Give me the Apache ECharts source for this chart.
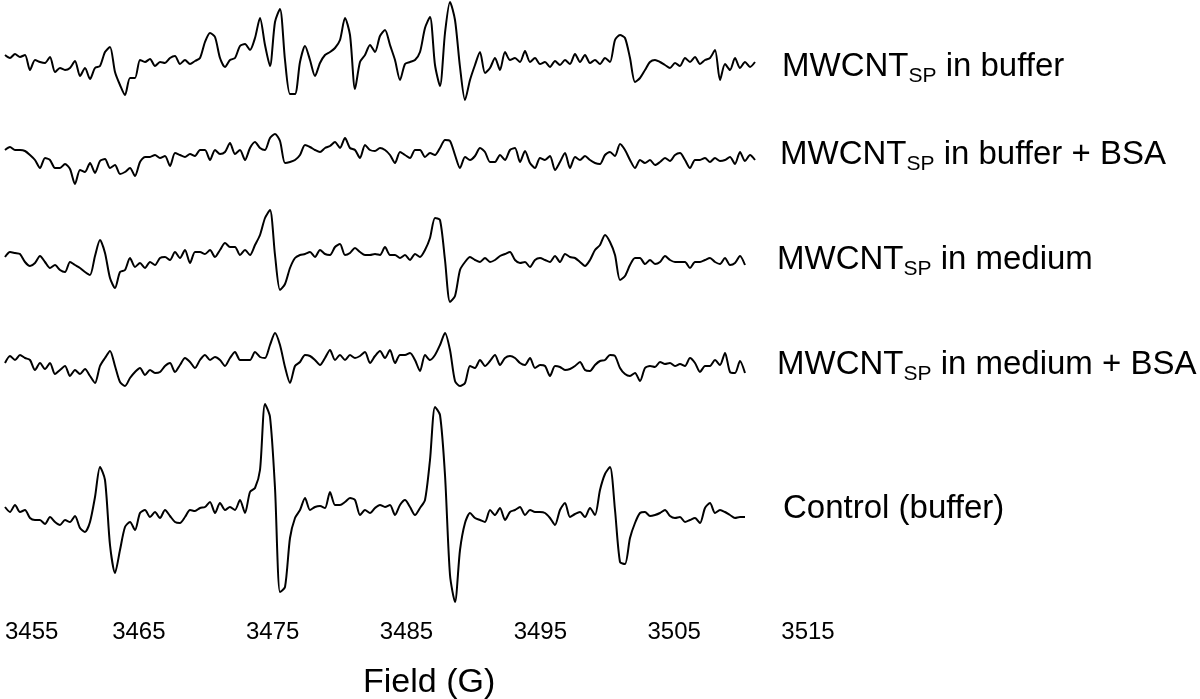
<!DOCTYPE html>
<html>
<head>
<meta charset="utf-8">
<script src="https://cdn.jsdelivr.net/npm/echarts@6/dist/echarts.min.js"></script>
<style>
html, body { margin: 0; padding: 0; background: #fff; }
#chart { width: 1200px; height: 699px; }
</style>
</head>
<body>
<div id="chart"></div>
<script>
// field sweep (G) and axis ticks
var fieldStart = 3455;
var fieldStep = 0.3736;
var fieldTicks = [3455, 3465, 3475, 3485, 3495, 3505, 3515];

// spectra, arbitrary units, one value per field step
var bufferSpec = [
  7, 4, 8, 5, 7, -8, 2, 0, -1, 5,
  -10, -6, -8, -6, 1, -14, -6, -17, -6, -4,
  10, 15, -10, -23, -33, -16, -16, 2, 0, 3,
  -4, 0, -1, 4, 6, -2, 2, -2, 1, 4,
  20, 29, 25, 4, -5, 2, 4, 16, 18, 12,
  24, 44, 17, -4, 40, 53, 2, -32, -32, 0,
  16, 2, -14, -1, 7, 10, 14, 22, 44, 27,
  -27, 0, 7, 17, 10, 26, 32, 17, 2, -18,
  -2, 0, 2, 10, 34, 45, -3, -24, 29, 60,
  42, -5, -38, -18, -3, 10, -11, -6, 4, -8,
  10, 2, 4, 0, 11, 0, 4, -2, 0, -5,
  1, -3, 2, -2, 8, 0, 7, -1, 2, -2,
  4, 0, 22, 27, 24, 4, -20, -16, -8, 0,
  2, 0, -3, -6, -1, -4, 4, 0, 5, -2,
  2, 4, 12, -18, -2, -8, 4, -6, 0, -5,
  0
];
var bufferBsaSpec = [
  8, 11, 8, 8, 7, 3, -2, -10, 0, -2,
  -10, -10, -6, -11, -26, -12, -14, -5, -15, -3,
  -1, -10, -7, -16, -14, -10, -18, -4, 1, 1,
  3, 0, 2, -8, 5, 3, 1, 4, 2, 8,
  8, -2, 8, 4, 6, 15, 4, 8, -2, 10,
  16, 10, 8, 20, 24, 17, -5, -4, -2, 3,
  13, 11, 8, 6, 10, 12, 16, 10, 20, 10,
  8, 0, 13, 8, 7, 10, 8, 3, -5, 6,
  3, 0, 8, 8, 1, 5, 3, 10, 18, 17,
  3, -10, 1, -2, 2, 10, 6, -4, -4, 3,
  -2, 8, 10, -4, 7, -5, -10, 0, -2, 2,
  -12, -4, 5, -10, 1, -2, 2, -2, -5, -6,
  3, 6, 2, 14, 8, -2, -10, -2, -5, -2,
  -7, -4, 0, -3, 3, 5, -2, -10, -2, -2,
  0, -4, 0, -3, -2, 1, -6, 6, -3, 3,
  -2
];
var mediumSpec = [
  5, 10, 9, 8, 0, -4, -1, 6, 0, -6,
  -3, -8, -10, 0, -3, -6, -10, -13, 6, 22,
  9, -16, -26, -10, -8, 4, -5, -1, -6, 0,
  -3, 4, 5, 2, 10, 4, 12, -1, 10, 10,
  8, 12, 5, 12, 19, 15, 15, 7, 12, 7,
  17, 27, 44, 52, 7, -28, -22, -6, 4, 7,
  8, 10, 5, 12, 8, 7, 15, 18, 7, 9,
  14, 10, 7, 7, 8, 7, 15, 7, 7, 4,
  7, 2, 8, 5, 12, 24, 44, 42, 2, -40,
  -34, -8, 0, 5, 2, 0, 4, 0, 2, 6,
  8, 10, 2, -1, 0, -5, 2, 4, 2, 0,
  6, 0, 8, 5, 4, 0, -4, 2, 12, 17,
  27, 20, 7, -18, -14, -3, 4, 4, -2, 2,
  -2, 0, 6, 2, 0, 0, 0, -6, 0, 0,
  2, 4, 0, -2, 4, -3, -1, 6, -3
];
var mediumBsaSpec = [
  -1, 6, 2, 7, 4, 2, -8, -1, -7, -1,
  -12, -8, -4, -14, -8, -12, -7, -14, -21, -4,
  4, 11, -4, -20, -24, -16, -10, -6, -13, -8,
  -11, -10, -4, -1, -10, -3, 4, 0, -6, 2,
  7, 2, 5, 2, -4, 4, 10, 2, 2, 2,
  10, 5, 4, 17, 29, 17, -5, -21, -4, 0,
  7, 6, 2, -3, 4, 12, 2, 7, 2, 7,
  4, 6, 10, -1, 6, 11, 4, 12, -1, 7,
  7, 9, 2, -9, 7, 2, 7, 17, 29, 12,
  -19, -24, -21, -4, -6, 2, -4, 1, 7, -3,
  4, 6, 4, -1, -3, 4, -6, -3, -4, -14,
  -4, -5, -8, -7, -4, 0, -8, -9, -3, 1,
  2, 7, 6, -6, -12, -14, -11, -19, -6, -4,
  -5, 0, -2, -1, -4, -2, -4, 4, -1, -10,
  -4, -4, 2, -3, 9, -10, -11, 1, -11
];
var controlSpec = [
  5, 0, 7, 0, 2, -6, -8, -8, -12, -5,
  -10, -13, -8, -10, -4, -16, -20, -10, 15, 45,
  32, -33, -61, -38, -15, -10, -18, -1, 2, -5,
  0, -6, 2, -4, -10, -11, -5, 2, 1, 4,
  5, 10, -1, 9, 2, 5, 2, 12, -1, 20,
  24, 42, 108, 95, 24, -80, -75, -26, -6, 2,
  14, 2, 5, 6, 4, 20, 7, 7, 10, 14,
  12, -3, 2, -1, 4, 7, 5, 7, -3, 7,
  12, 5, -3, 4, 12, 52, 105, 97, 37, -63,
  -90, -38, -11, -1, -6, -8, -10, 2, -3, 4,
  -8, 0, 2, 5, -3, 2, 0, 0, -1, -6,
  -13, 2, 9, -5, -2, 0, -5, 4, -3, 22,
  38, 45, 2, -50, -52, -26, -11, -1, 0, -4,
  -3, -1, 2, -4, -6, -5, -10, -8, -6, -11,
  4, 9, -1, 2, 0, -3, -6, -5, -5
];

var traceNames = ['MWCNT_SP in buffer', 'MWCNT_SP in buffer + BSA', 'MWCNT_SP in medium',
                  'MWCNT_SP in medium + BSA', 'Control (buffer)'];
var labelMain = ['MWCNT', 'MWCNT', 'MWCNT', 'MWCNT', 'Control (buffer)'];
var labelSub = ['SP', 'SP', 'SP', 'SP', ''];
var labelRest = [' in buffer', ' in buffer + BSA', ' in medium', ' in medium + BSA', ''];

var spectra = [bufferSpec, bufferBsaSpec, mediumSpec, mediumBsaSpec, controlSpec];
// vertical stacking of the traces
var offsets = [62, 158, 262, 362, 512];
var labelPos = [[782, 50], [780, 138], [777, 243], [777, 348], [783, 492]];
var FONT = '"Liberation Sans", Arial, Helvetica, sans-serif';

var chart = echarts.init(document.getElementById('chart'));

var series = spectra.map(function (spec, k) {
  return {
    name: traceNames[k],
    type: 'line',
    showSymbol: false,
    smooth: 0.25,
    lineStyle: { color: '#000', width: 2 },
    data: spec.map(function (v, i) {
      return [fieldStart + i * fieldStep, v - offsets[k]];
    })
  };
});

var graphics = labelMain.map(function (m, k) {
  var txt = labelSub[k] ? '{m|' + m + '}{s|' + labelSub[k] + '}{m|' + labelRest[k] + '}' : '{m|' + m + '}';
  return {
    type: 'text',
    left: labelPos[k][0],
    top: labelPos[k][1],
    style: {
      text: txt,
      rich: {
        m: { fontSize: 33, fontFamily: FONT, lineHeight: 40, fill: '#000' },
        s: { fontSize: 21, fontFamily: FONT, lineHeight: 14, verticalAlign: 'bottom', fill: '#000' }
      }
    }
  };
});

var option = {
  animation: false,
  backgroundColor: '#fff',
  title: {
    text: 'Field (G)',
    left: 363,
    top: 666,
    padding: 0,
    textStyle: { fontSize: 34, fontWeight: 'normal', color: '#000', fontFamily: FONT }
  },
  grid: { left: 5, width: 803, top: 0, height: 615 },
  xAxis: {
    type: 'value',
    min: fieldTicks[0],
    max: fieldTicks[fieldTicks.length - 1],
    interval: fieldTicks[1] - fieldTicks[0],
    axisLine: { show: false },
    axisTick: { show: false },
    splitLine: { show: false },
    axisLabel: {
      fontSize: 24, color: '#000', fontFamily: FONT, margin: 5, alignMinLabel: 'left',
      formatter: function (v) { return String(v); }
    }
  },
  yAxis: { type: 'value', min: -615, max: 0, show: false },
  graphic: graphics,
  series: series
};

chart.setOption(option);
</script>
</body>
</html>
